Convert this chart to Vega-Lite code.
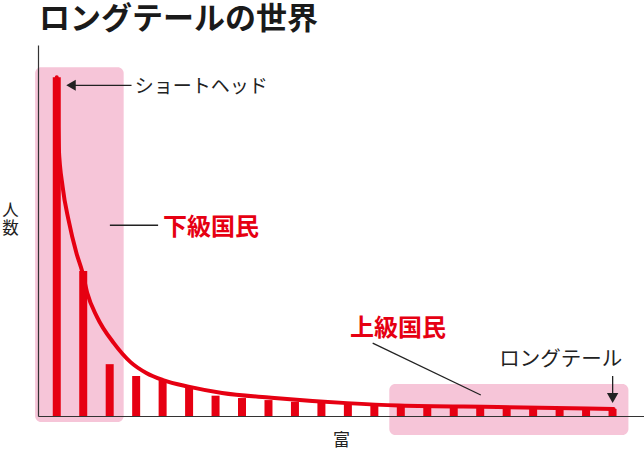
{
  "$schema": "https://vega.github.io/schema/vega-lite/v6.json",
  "width": 606,
  "height": 371,
  "autosize": "none",
  "padding": {"left": 38, "top": 45, "right": 0, "bottom": 37},
  "background": "white",
  "title": {
    "text": "ロングテールの世界",
    "anchor": "start",
    "frame": "group",
    "font": "Noto Sans CJK JP",
    "fontSize": 31,
    "fontWeight": "bold",
    "color": "#1a1a1a",
    "offset": 9,
    "dx": 1
  },
  "config": {
    "view": {"stroke": null},
    "font": "Noto Sans CJK JP"
  },
  "datasets": {
    "bars": [
      {"x": 1, "y": 100},
      {"x": 2, "y": 42.8},
      {"x": 3, "y": 15.3},
      {"x": 4, "y": 11.8},
      {"x": 5, "y": 10.6},
      {"x": 6, "y": 8.3},
      {"x": 7, "y": 6.0},
      {"x": 8, "y": 5.3},
      {"x": 9, "y": 4.7},
      {"x": 10, "y": 4.2},
      {"x": 11, "y": 3.9},
      {"x": 12, "y": 3.6},
      {"x": 13, "y": 3.3},
      {"x": 14, "y": 3.1},
      {"x": 15, "y": 2.95},
      {"x": 16, "y": 2.85},
      {"x": 17, "y": 2.7},
      {"x": 18, "y": 2.6},
      {"x": 19, "y": 2.5},
      {"x": 20, "y": 2.4},
      {"x": 21, "y": 2.25},
      {"x": 22, "y": 2.1}
    ],
    "curve": [
      {"x": 1.0, "y": 100},
      {"x": 1.074, "y": 79.4},
      {"x": 1.223, "y": 67.6},
      {"x": 1.446, "y": 57.8},
      {"x": 1.743, "y": 48.1},
      {"x": 1.967, "y": 42.5},
      {"x": 2.152, "y": 36.3},
      {"x": 2.524, "y": 29.2},
      {"x": 3.156, "y": 21.5},
      {"x": 3.788, "y": 15.9},
      {"x": 4.383, "y": 12.7},
      {"x": 5.015, "y": 10.6},
      {"x": 6.019, "y": 8.6},
      {"x": 7.245, "y": 6.8},
      {"x": 9.104, "y": 5.4},
      {"x": 11.967, "y": 3.8},
      {"x": 13.937, "y": 3.1},
      {"x": 17.654, "y": 2.65},
      {"x": 22.04, "y": 2.06}
    ],
    "zones": [
      {"name": "下級国民", "x": 0.182, "x2": 3.528, "y": 102.9, "y2": -1.77},
      {"name": "上級国民", "x": 13.565, "x2": 22.6, "y": 9.44, "y2": -5.6}
    ],
    "leaders": [
      {"to": "ショートヘッド", "x": 1.539, "x2": 3.825, "y": 97.6, "y2": 97.6},
      {"to": "下級国民", "x": 3.007, "x2": 4.829, "y": 56.3, "y2": 56.3},
      {"to": "上級国民", "x": 12.937, "x2": 17.022, "y": 21.5, "y2": 6.2},
      {"to": "ロングテール", "x": 22.004, "x2": 22.004, "y": 11.8, "y2": 5.6}
    ],
    "headLeft": [{"x": 1.539, "y": 97.6}],
    "headDown": [{"x": 22.004, "y": 5.3}],
    "shortHead": [
      {"label": "ショートヘッド", "x": 3.95, "y": 97.2}
    ],
    "longTail": [
      {"label": "ロングテール", "x": 17.72, "y": 16.5}
    ],
    "classes": [
      {"label": "下級国民", "x": 5.015, "y": 55.5},
      {"label": "上級国民", "x": 12.078, "y": 25.7}
    ]
  },
  "encoding": {
    "x": {
      "field": "x",
      "type": "quantitative",
      "scale": {"domain": [0.48, 23.0], "nice": false, "zero": false},
      "axis": {
        "title": "富",
        "ticks": false,
        "labels": false,
        "grid": false,
        "zindex": 1,
        "domainColor": "#333333",
        "domainWidth": 1.2,
        "titleFont": "Noto Sans CJK JP",
        "titleFontSize": 17,
        "titleFontWeight": "normal",
        "titleColor": "#222222",
        "titleX": 303,
        "titleY": 24,
        "titleAlign": "center",
        "titleBaseline": "middle"
      }
    },
    "y": {
      "field": "y",
      "type": "quantitative",
      "scale": {"domain": [0, 109.5], "nice": false},
      "axis": {
        "title": ["人", "数"],
        "ticks": false,
        "labels": false,
        "grid": false,
        "zindex": 1,
        "domainColor": "#333333",
        "domainWidth": 1.2,
        "titleFont": "Noto Sans CJK JP",
        "titleFontSize": 16.5,
        "titleFontWeight": "normal",
        "titleColor": "#222222",
        "titleAngle": 0,
        "titleX": -28,
        "titleY": 157,
        "titleAlign": "center",
        "titleBaseline": "top",
        "titleLineHeight": 18
      }
    }
  },
  "layer": [
    {
      "data": {"name": "zones"},
      "mark": {"type": "rect", "color": "#f6c5d8", "cornerRadius": 6},
      "encoding": {
        "x2": {"field": "x2"},
        "y2": {"field": "y2"}
      }
    },
    {
      "data": {"name": "bars"},
      "mark": {"type": "bar", "color": "#e60012", "size": 8},
      "encoding": {}
    },
    {
      "data": {"name": "curve"},
      "mark": {
        "type": "line",
        "color": "#e60012",
        "strokeWidth": 4,
        "strokeCap": "round",
        "interpolate": "monotone"
      },
      "encoding": {}
    },
    {
      "data": {"name": "leaders"},
      "mark": {"type": "rule", "color": "#222222", "strokeWidth": 1.3},
      "encoding": {
        "x2": {"field": "x2"},
        "y2": {"field": "y2"}
      }
    },
    {
      "data": {"name": "headLeft"},
      "mark": {"type": "point", "shape": "triangle-left", "filled": true, "color": "#222222", "size": 120, "opacity": 1},
      "encoding": {}
    },
    {
      "data": {"name": "headDown"},
      "mark": {"type": "point", "shape": "triangle-down", "filled": true, "color": "#222222", "size": 130, "opacity": 1},
      "encoding": {}
    },
    {
      "data": {"name": "shortHead"},
      "mark": {"type": "text", "align": "left", "baseline": "middle", "fontSize": 19, "color": "#222222", "font": "Noto Sans CJK JP"},
      "encoding": {
        "text": {"field": "label"}
      }
    },
    {
      "data": {"name": "longTail"},
      "mark": {"type": "text", "align": "left", "baseline": "middle", "fontSize": 20.5, "color": "#222222", "font": "Noto Sans CJK JP"},
      "encoding": {
        "text": {"field": "label"}
      }
    },
    {
      "data": {"name": "classes"},
      "mark": {"type": "text", "align": "left", "baseline": "middle", "fontSize": 24, "fontWeight": "bold", "color": "#e60012", "font": "Noto Sans CJK JP"},
      "encoding": {
        "text": {"field": "label"}
      }
    }
  ]
}
